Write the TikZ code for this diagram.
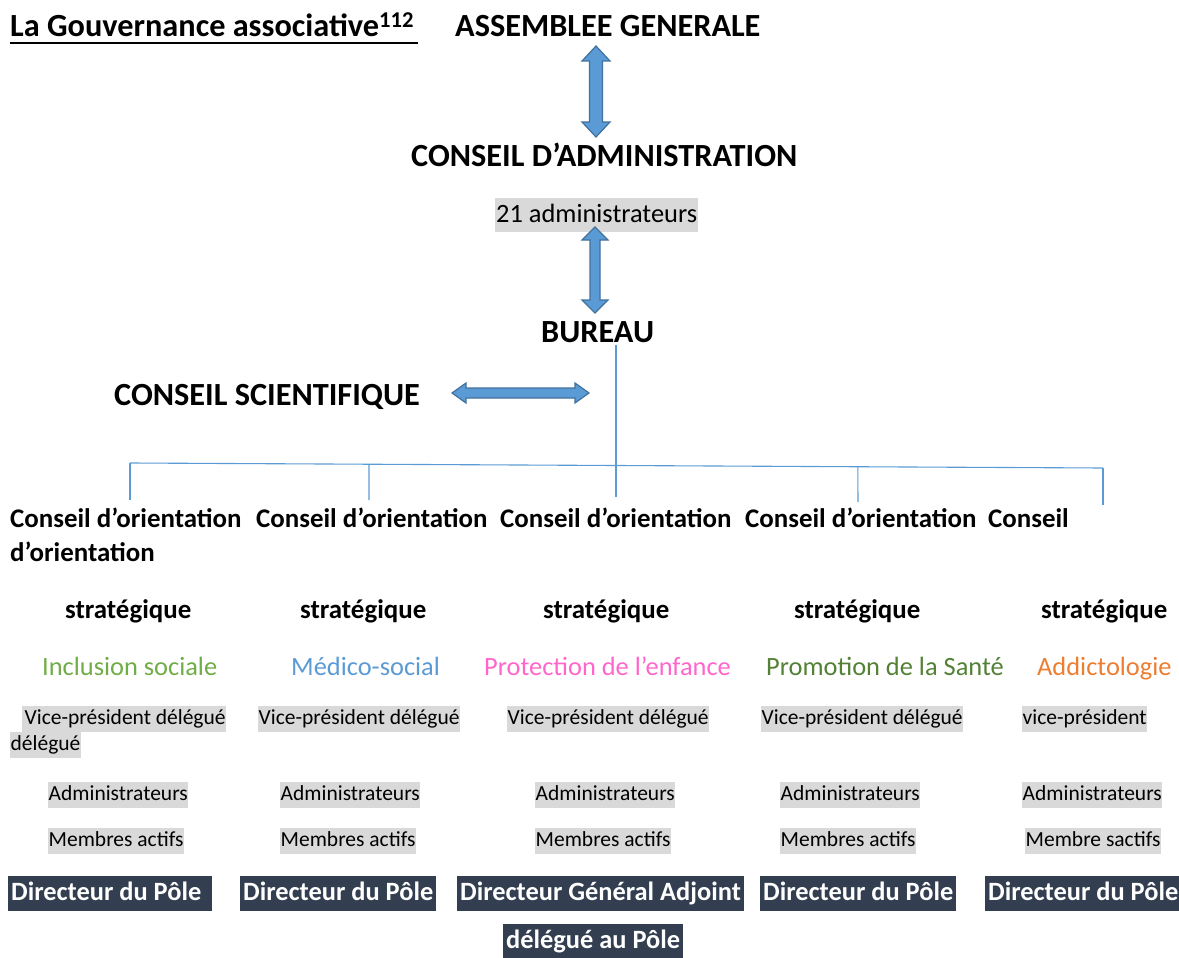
\documentclass[tikz,border=0pt]{standalone}
\usepackage{fontspec}
\setmainfont{Carlito}
\usetikzlibrary{calc}
\definecolor{grayb}{HTML}{D9D9D9}
\definecolor{darkb}{HTML}{333F50}
\definecolor{arrowblue}{HTML}{5B9BD5}
\definecolor{arrowedge}{HTML}{41719C}
\definecolor{cgreen}{HTML}{70AD47}
\definecolor{cblue}{HTML}{5B9BD5}
\definecolor{cpink}{HTML}{FF66CC}
\definecolor{cdgreen}{HTML}{538135}
\definecolor{corange}{HTML}{ED7D31}
\newcommand\vdarrow[5]{% top, bottom, shaft half, head half, head length
  \filldraw[blockarrow] (#1) -- ($(#1)+(#4,#5)$) -- ($(#1)+(#3,#5)$) -- ($(#2)+(#3,-#5)$) -- ($(#2)+(#4,-#5)$) -- (#2)
    -- ($(#2)+(-#4,-#5)$) -- ($(#2)+(-#3,-#5)$) -- ($(#1)+(-#3,#5)$) -- ($(#1)+(-#4,#5)$) -- cycle;}
\newcommand\hdarrow[5]{% left, right, shaft half, head half, head length
  \filldraw[blockarrow] (#1) -- ($(#1)+(#5,-#4)$) -- ($(#1)+(#5,-#3)$) -- ($(#2)+(-#5,-#3)$) -- ($(#2)+(-#5,-#4)$) -- (#2)
    -- ($(#2)+(-#5,#4)$) -- ($(#2)+(-#5,#3)$) -- ($(#1)+(#5,#3)$) -- ($(#1)+(#5,#4)$) -- cycle;}
\begin{document}
\begin{tikzpicture}[x=1pt,y=-1pt,
  head/.style={font=\bfseries\fontsize{32.3}{38}\selectfont, inner sep=0, anchor=base west},
  boldrow/.style={font=\bfseries\fontsize{26.9}{30}\selectfont, inner sep=0, anchor=base west},
  colrow/.style={font=\fontsize{26.4}{30}\selectfont, inner sep=0, anchor=base west},
  graybox/.style={fill=grayb, font=\fontsize{21.5}{25}\selectfont, inner xsep=0.5, inner ysep=3, text height=15, text depth=5, anchor=base west},
  adminbox/.style={fill=grayb, font=\fontsize{26.4}{30}\selectfont, inner xsep=1, inner ysep=4, text height=20, text depth=6, anchor=base west},
  darkbox/.style={fill=darkb, text=white, font=\bfseries\fontsize{26.4}{30}\selectfont, inner xsep=3, inner ysep=5, text height=19, text depth=6, anchor=base west},
  blockarrow/.style={fill=arrowblue, draw=arrowedge, line width=1.2, line join=miter},
  link/.style={draw=arrowblue, line width=1.1}]
\useasboundingbox (0,0) rectangle (1179,958);

% headings
\node[head] (title) at (10,37) {La Gouvernance associative\textsuperscript{112}};
\draw[line width=2] (10,43) coordinate (ul1) -- (418,43) coordinate (ul2);
\node[head] (ag) at (455,37) {ASSEMBLEE GENERALE};
\node[head] (ca) at (411,166) {CONSEIL D’ADMINISTRATION};
\node[adminbox] (adm) at (495,222) {21 administrateurs};
\node[head] (bureau) at (541,342) {BUREAU};
\node[head] (cs) at (114,405) {CONSEIL SCIENTIFIQUE};

% block arrows
\coordinate (a1t) at (596,46);
\coordinate (a1b) at (596,137);
\vdarrow{a1t}{a1b}{6.5}{14}{15}
\coordinate (a2t) at (595,227);
\coordinate (a2b) at (595,313);
\vdarrow{a2t}{a2b}{5}{13}{13}
\coordinate (a3l) at (452,393);
\coordinate (a3r) at (589,393);
\hdarrow{a3l}{a3r}{5}{10}{14}

% tree
\coordinate (b0) at (616,345);
\coordinate (b1) at (616,497);
\coordinate (h1) at (130,463);
\coordinate (h5) at (1103,468);
\draw[link] (b0) -- (b1);
\draw[link] (h1) -- (h5);
\coordinate (t1) at (130,500);
\coordinate (t2) at (369,500);
\coordinate (t4) at (858,502);
\coordinate (t5) at (1103,505);
\draw[link] (h1) -- (t1);
\draw[link] ($(h1)!0.2456!(h5)$) -- (t2);
\draw[link] ($(h1)!0.748!(h5)$) -- (t4);
\draw[link] (h5) -- (t5);

% row conseil d'orientation
\node[boldrow] (co1) at (10,527) {Conseil d’orientation};
\node[boldrow] (co2) at (256,527) {Conseil d’orientation};
\node[boldrow] (co3) at (500,527) {Conseil d’orientation};
\node[boldrow] (co4) at (745,527) {Conseil d’orientation};
\node[boldrow] (co5) at (988,527) {Conseil};
\node[boldrow] (co5b) at (10,561) {d’orientation};

% strategique
\node[boldrow] (s1) at (65,618) {stratégique};
\node[boldrow] (s2) at (300,618) {stratégique};
\node[boldrow] (s3) at (543,618) {stratégique};
\node[boldrow] (s4) at (794,618) {stratégique};
\node[boldrow] (s5) at (1041,618) {stratégique};

% poles
\node[colrow, text=cgreen] (p1) at (42,675) {Inclusion sociale};
\node[colrow, text=cblue] (p2) at (291,675) {Médico-social};
\node[colrow, text=cpink] (p3) at (484,675) {Protection de l’enfance};
\node[colrow, text=cdgreen] (p4) at (766,675) {Promotion de la Santé};
\node[colrow, text=corange] (p5) at (1037,675) {Addictologie};

% vice-presidents
\node[graybox] (v1) at (22,724) {\hspace{2pt}Vice-président délégué};
\node[graybox] (v1b) at (10,750) {délégué};
\node[graybox] (v2) at (258,724) {Vice-président délégué};
\node[graybox] (v3) at (507,724) {Vice-président délégué};
\node[graybox] (v4) at (761,724) {Vice-président délégué};
\node[graybox] (v5) at (1022,724) {vice-président};

% administrateurs
\node[graybox] (d1) at (48,800) {Administrateurs};
\node[graybox] (d2) at (280,800) {Administrateurs};
\node[graybox] (d3) at (535,800) {Administrateurs};
\node[graybox] (d4) at (780,800) {Administrateurs};
\node[graybox] (d5) at (1022,800) {Administrateurs};

% membres
\node[graybox] (m1) at (48,846) {Membres actifs};
\node[graybox] (m2) at (280,846) {Membres actifs};
\node[graybox] (m3) at (535,846) {Membres actifs};
\node[graybox] (m4) at (780,846) {Membres actifs};
\node[graybox] (m5) at (1025,846) {Membre sactifs};

% directeurs
\node[darkbox] (r1) at (8,900) {Directeur du Pôle\kern8pt};
\node[darkbox] (r2) at (240,900) {Directeur du Pôle};
\node[darkbox] (r3) at (457,900) {Directeur Général Adjoint};
\node[darkbox] (r4) at (760,900) {Directeur du Pôle};
\node[darkbox] (r5) at (985,900) {Directeur du Pôle};
\node[darkbox] (r3b) at (503,948) {délégué au Pôle};
\end{tikzpicture}
\end{document}
